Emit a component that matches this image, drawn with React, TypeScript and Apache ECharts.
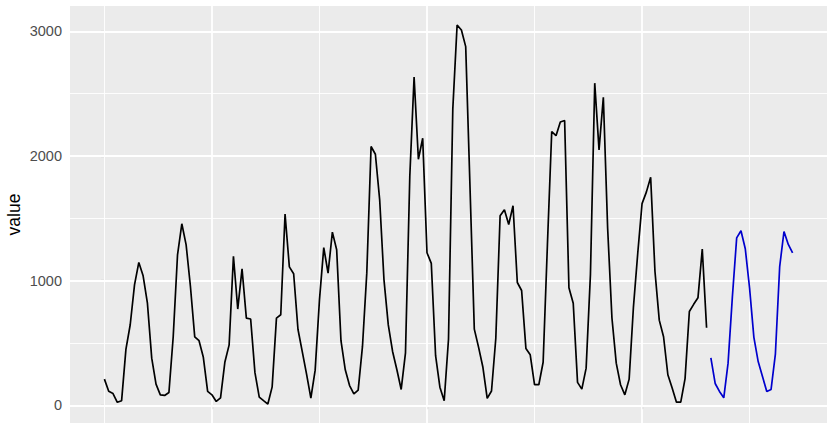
import React, { useEffect, useRef } from "react";
import * as echarts from "echarts";

// observed series (black) and forecast (blue), one value per time step
const blackValues = [
  210, 112, 94, 24, 37, 449, 646, 966, 1146, 1039,
  819, 378, 170, 84, 79, 103, 552, 1207, 1456, 1287,
  953, 549, 518, 385, 111, 84, 31, 60, 345, 485,
  1196, 772, 1095, 699, 692, 262, 65, 37, 10, 148,
  699, 726, 1534, 1110, 1055, 610, 430, 250, 57, 282,
  846, 1265, 1060, 1389, 1248, 518, 285, 158, 92, 122,
  472, 1060, 2076, 2014, 1648, 1006, 645, 432, 285, 127,
  421, 1834, 2634, 1974, 2142, 1224, 1138, 398, 145, 36,
  530, 2376, 3051, 3011, 2877, 1750, 611, 465, 305, 55,
  115, 538, 1520, 1568, 1450, 1601, 985, 921, 455, 405,
  165, 165, 345, 1290, 2196, 2163, 2272, 2284, 943, 819,
  184, 130, 298, 1050, 2584, 2049, 2471, 1420, 700, 338,
  165, 84, 210, 790, 1220, 1618, 1710, 1830, 1075, 683,
  550, 245, 138, 25, 25, 214, 752, 810, 862, 1253,
  622,
];
const blueValues = [
  380, 175, 111, 60, 338, 870, 1343, 1400, 1256, 940,
  545, 351, 231, 111, 127, 410, 1113, 1394, 1290, 1223,
];

const yTicks = [0, 1000, 2000, 3000];
const yMinor = [500, 1500, 2500];
const xMajor = [25, 75, 125];
const xMinor = [0, 50, 100, 150];

export default function App() {
  const ref = useRef<HTMLDivElement>(null);

  useEffect(() => {
    if (!ref.current) return;
    const chart = echarts.init(ref.current, null, { renderer: "svg" });

    const blackData = blackValues.map((v, i) => [i, v]);
    const blueData = blueValues.map((v, i) => [blackValues.length + i, v]);
    const nTotal = blackValues.length + blueValues.length - 1;
    const all = [...blackValues, ...blueValues];
    const dMin = Math.min(...all);
    const dMax = Math.max(...all);
    const yPad = (dMax - dMin) * 0.05;
    const xPad = nTotal * 0.05;

    const gridLines = (values: { xAxis?: number; yAxis?: number }[], width: number) => ({
      type: "line",
      data: [],
      z: 1,
      silent: true,
      markLine: {
        z: 1,
        silent: true,
        symbol: "none",
        animation: false,
        label: { show: false },
        emphasis: { disabled: true },
        lineStyle: { color: "#ffffff", width, type: "solid" },
        data: values,
      },
    });

    chart.setOption({
      animation: false,
      backgroundColor: "#ffffff",
      grid: {
        left: 70,
        top: 6,
        right: 0,
        height: 417,
        show: true,
        backgroundColor: "#EBEBEB",
        borderWidth: 0,
        containLabel: false,
        outerBoundsMode: "none",
      },
      xAxis: {
        type: "value",
        min: -xPad,
        max: nTotal + xPad,
        axisLine: { show: false },
        splitLine: { show: false },
        axisTick: {
          show: true,
          customValues: xMajor,
          length: 4,
          lineStyle: { color: "#333333", width: 1.07 },
        },
        axisLabel: { show: false },
      },
      yAxis: {
        type: "value",
        min: dMin - yPad,
        max: dMax + yPad,
        name: "value",
        nameLocation: "middle",
        nameRotate: 90,
        nameGap: 47,
        nameMoveOverlap: false,
        nameTextStyle: {
          color: "#000000",
          fontSize: 17.5,
          fontFamily: "Liberation Sans, Arial, sans-serif",
        },
        axisLine: { show: false },
        splitLine: { show: false },
        axisTick: {
          show: true,
          customValues: yTicks,
          length: 4,
          lineStyle: { color: "#333333", width: 1.07 },
        },
        axisLabel: {
          show: true,
          customValues: yTicks,
          margin: 8,
          color: "#4D4D4D",
          fontSize: 14.5,
          fontFamily: "Liberation Sans, Arial, sans-serif",
          formatter: (v: number) => String(Math.round(v)),
        },
      },
      series: [
        gridLines(
          [...xMinor.map((v) => ({ xAxis: v })), ...yMinor.map((v) => ({ yAxis: v }))],
          0.9
        ),
        gridLines(
          [...xMajor.map((v) => ({ xAxis: v })), ...yTicks.map((v) => ({ yAxis: v }))],
          1.8
        ),
        {
          type: "line",
          data: blackData,
          z: 3,
          showSymbol: false,
          silent: true,
          lineStyle: { color: "#000000", width: 1.7 },
        },
        {
          type: "line",
          data: blueData,
          z: 3,
          showSymbol: false,
          silent: true,
          lineStyle: { color: "#0000CD", width: 1.7 },
        },
      ],
    });

    return () => chart.dispose();
  }, []);

  return (
    <div
      style={{
        position: "fixed",
        left: 0,
        top: 0,
        width: 827,
        height: 424,
        overflow: "hidden",
        background: "#ffffff",
      }}
    >
      <div ref={ref} style={{ width: 827, height: 460 }} />
    </div>
  );
}
